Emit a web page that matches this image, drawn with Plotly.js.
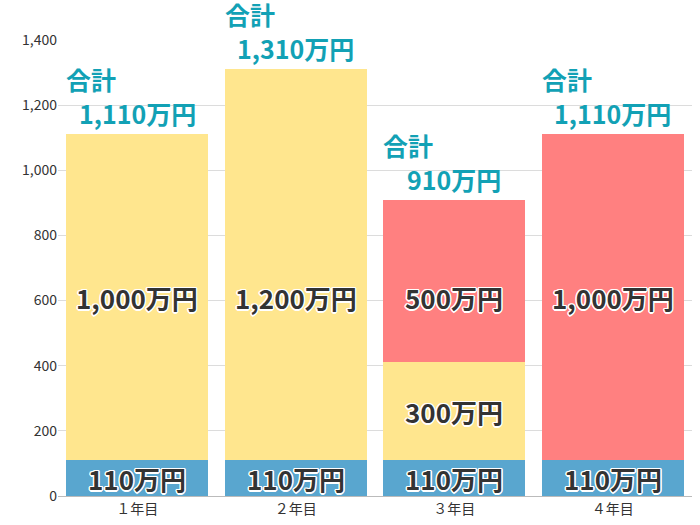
<!DOCTYPE html>
<html>
<head>
<meta charset="utf-8">
<script src="https://cdn.plot.ly/plotly-3.0.1.min.js"></script>
<style>
  html, body { margin: 0; padding: 0; background: #fff; }
  #chart { width: 700px; height: 525px; }
</style>
</head>
<body>
<div id="chart"></div>
<script>
// ── Data ──────────────────────────────────────────────────────────────────────
const years      = ['１年目', '２年目', '３年目', '４年目'];
const baseVals   = [110, 110, 110, 110];    // blue
const yellowVals = [1000, 1200, 300, 0];    // yellow
const redVals    = [0, 0, 500, 1000];       // red

const FONT = '"Noto Sans CJK JP", "Noto Sans", sans-serif';
const TEAL = '#12a1b5';
const OUTLINE = '-1px -1px 0 #fff, 1px -1px 0 #fff, -1px 1px 0 #fff, 1px 1px 0 #fff, 0 1.5px 0 #fff, 0 -1.5px 0 #fff, 1.5px 0 0 #fff, -1.5px 0 0 #fff';
const UPPER_LABEL_Y = 610;   // upper segment labels sit on one line

function label(v) { return v.toLocaleString('en-US') + '万円'; }

function segment(vals, color) {
  return {
    x: years,
    y: vals,
    type: 'bar',
    marker: { color: color, line: { width: 0 } },
    hoverinfo: 'skip',
  };
}

const traces = [
  segment(baseVals, '#59a6cf'),
  segment(yellowVals, '#ffe68e'),
  segment(redVals, '#ff8080'),
];

const annotations = [];

// ── Segment labels ────────────────────────────────────────────────────────────
years.forEach((yr, i) => {
  let bottom = 0;
  [baseVals, yellowVals, redVals].forEach(series => {
    const v = series[i];
    if (v > 0) {
      annotations.push({
        x: yr, y: Math.min(bottom + v / 2, UPPER_LABEL_Y), xref: 'x', yref: 'y',
        text: label(v), showarrow: false,
        font: { family: FONT, size: 26, color: '#333', weight: 'bold', shadow: OUTLINE },
      });
    }
    bottom += v;
  });
});

// ── Totals above bars ─────────────────────────────────────────────────────────
const totals = years.map((_, i) => baseVals[i] + yellowVals[i] + redVals[i]);
totals.forEach((t, i) => {
  annotations.push({
    x: years[i], y: t, xref: 'x', yref: 'y',
    text: label(t),
    showarrow: false, yanchor: 'bottom', yshift: 1,
    font: { family: FONT, size: 25, color: TEAL, weight: 'bold' },
  });
  annotations.push({
    x: i - 0.46, y: t, xref: 'x', yref: 'y',
    text: '合計',
    showarrow: false, xanchor: 'left', yanchor: 'bottom', yshift: 35,
    font: { family: FONT, size: 25, color: TEAL, weight: 'bold' },
  });
});

const layout = {
  width: 700, height: 525,
  paper_bgcolor: '#fff', plot_bgcolor: '#fff',
  margin: { l: 58, r: 8, t: 40, b: 29 },
  barmode: 'stack',
  bargap: 0.107,
  showlegend: false,
  font: { family: FONT, color: '#333', size: 14 },
  xaxis: {
    showline: true, linecolor: '#bbb', linewidth: 1,
    ticks: '', tickfont: { size: 14, color: '#333' },
  },
  yaxis: {
    range: [0, 1400], dtick: 200, tickformat: ',d',
    gridcolor: '#dcdcdc', zeroline: false,
    tickfont: { size: 14, color: '#333' },
  },
  annotations: annotations,
};

Plotly.newPlot('chart', traces, layout, { displayModeBar: false, staticPlot: true });
</script>
</body>
</html>
